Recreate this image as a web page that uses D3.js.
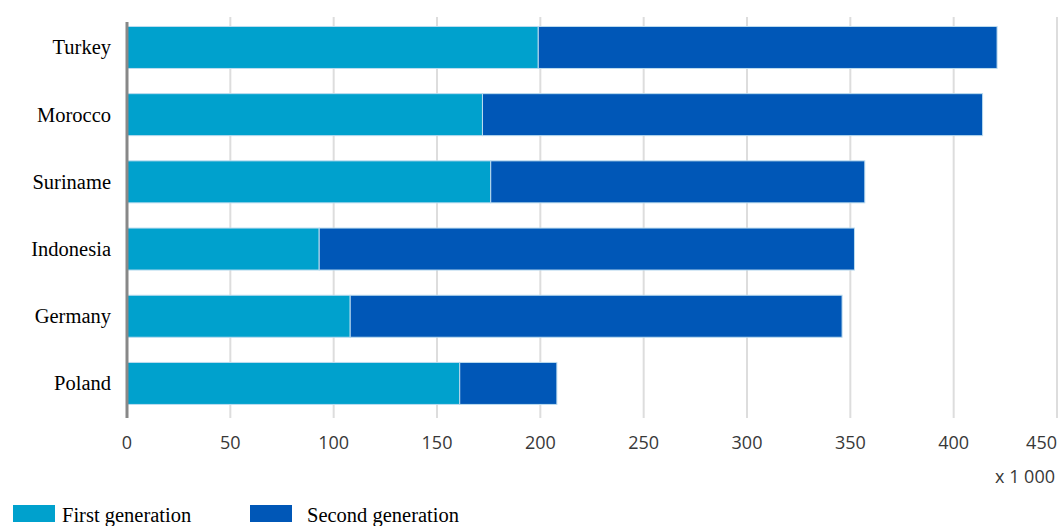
<!DOCTYPE html>
<html>
<head>
<meta charset="utf-8">
<script src="https://cdn.jsdelivr.net/npm/d3@7"></script>
<style>
  body { margin: 0; background: #fff; }
</style>
</head>
<body>
<svg></svg>
<script>
let width = 1058
let height = 526

let countries = ['Turkey', 'Morocco', 'Suriname', 'Indonesia', 'Germany', 'Poland']
let firstGen = [199, 172, 176, 93, 108, 161]
let secondGen = [222, 242, 181, 259, 238, 47]
let seriesNames = ['First generation', 'Second generation']
let ticks = [0, 50, 100, 150, 200, 250, 300, 350, 400, 450]
let colors = ['#00a1cd', '#0057b7']

let rows = countries.map((c, i) => ({ country: c, first: firstGen[i], second: secondGen[i] }))
let stacked = d3.stack().keys(['first', 'second'])(rows)

let x = d3.scaleLinear().domain([0, 450]).range([127, 1057])
let y = d3.scaleBand()
          .domain(countries)
          .range([13.7, 417.2])
          .paddingInner(0.375)
          .paddingOuter(0.19)

let svg = d3.select('svg')
    .attr('width', width)
    .attr('height', height)

// grid
svg.append('g')
  .selectAll('line')
  .data(ticks.slice(1))
  .enter()
  .append('line')
    .attr('x1', d => x(d))
    .attr('x2', d => x(d))
    .attr('y1', 17)
    .attr('y2', 418)
    .attr('stroke', '#dddddd')
    .attr('stroke-width', 2)

// bars
svg.append('g')
  .selectAll('g')
  .data(stacked)
  .enter()
  .append('g')
    .attr('fill', (d, i) => colors[i])
  .selectAll('rect')
  .data(d => d)
  .enter()
  .append('rect')
    .attr('x', d => x(d[0]))
    .attr('y', d => y(d.data.country))
    .attr('width', d => x(d[1]) - x(d[0]))
    .attr('height', y.bandwidth())
    .attr('stroke', '#bcdcef')
    .attr('stroke-width', 1)

// axis line
svg.append('line')
    .attr('x1', x(0))
    .attr('x2', x(0))
    .attr('y1', 22)
    .attr('y2', 418)
    .attr('stroke', '#888')
    .attr('stroke-width', 3)

// category labels
svg.append('g')
  .selectAll('text')
  .data(countries)
  .enter()
  .append('text')
    .attr('x', 111)
    .attr('y', d => y(d) + y.bandwidth() / 2)
    .attr('dy', '0.34em')
    .attr('text-anchor', 'end')
    .attr('font-family', 'Liberation Serif, serif')
    .attr('font-size', 20.5)
    .attr('fill', '#000')
    .text(d => d)

// tick labels
svg.append('g')
  .selectAll('text')
  .data(ticks)
  .enter()
  .append('text')
    .attr('x', d => x(d))
    .attr('y', 443)
    .attr('dy', '0.36em')
    .attr('text-anchor', d => d === 450 ? 'end' : 'middle')
    .attr('font-family', 'Open Sans, sans-serif')
    .attr('font-size', 18)
    .attr('fill', '#383838')
    .text(d => d)

svg.append('text')
    .attr('x', 1055)
    .attr('y', 477)
    .attr('dy', '0.36em')
    .attr('text-anchor', 'end')
    .attr('font-family', 'Open Sans, sans-serif')
    .attr('font-size', 18)
    .attr('fill', '#383838')
    .text('x 1 000')

// legend
let legend = svg.append('g')
  .selectAll('g')
  .data(seriesNames)
  .enter()
  .append('g')

legend.append('rect')
    .attr('x', (d, i) => [13, 250][i])
    .attr('y', 505)
    .attr('width', 42)
    .attr('height', 17)
    .attr('fill', (d, i) => colors[i])

legend.append('text')
    .attr('x', (d, i) => [62, 307][i])
    .attr('y', 522)
    .attr('font-family', 'Liberation Serif, serif')
    .attr('font-size', 20.5)
    .attr('fill', '#000')
    .text(d => d)
</script>
</body>
</html>
